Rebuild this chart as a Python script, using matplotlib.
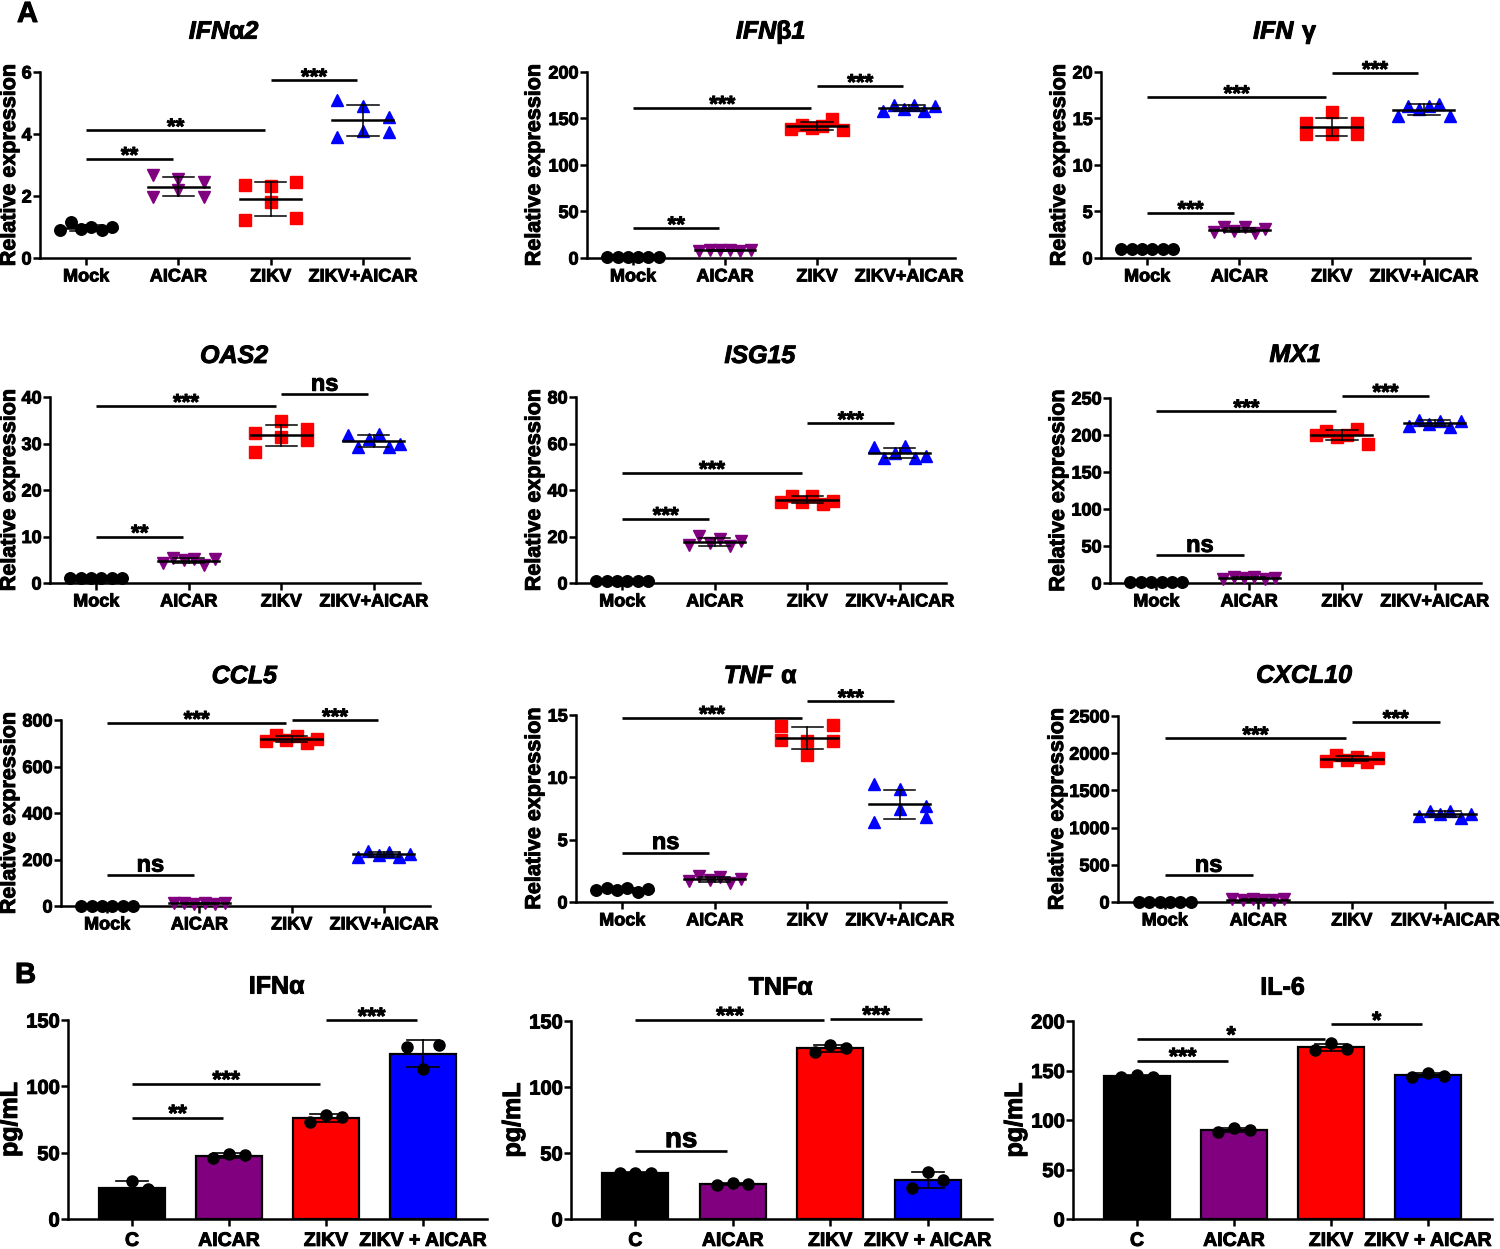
import numpy as np
import matplotlib
matplotlib.use("Agg")
import matplotlib.pyplot as plt
import matplotlib.patheffects as pe
from matplotlib.text import Text

plt.rcParams['font.family'] = ['Liberation Sans', 'DejaVu Sans']
plt.rcParams['font.weight'] = 'bold'
plt.rcParams['mathtext.fontset'] = 'custom'
plt.rcParams['mathtext.rm'] = 'Liberation Sans:italic:bold'
plt.rcParams['mathtext.sf'] = 'Liberation Sans'
plt.rcParams['mathtext.bf'] = 'Liberation Sans:bold'

# ---------------- data ----------------
groups = ["Mock", "AICAR", "ZIKV", "ZIKV+AICAR"]
bar_groups = ["C", "AICAR", "ZIKV", "ZIKV + AICAR"]

# panel A, relative expression, 6 replicates per group
ifna2 = [[0.91, 1.15, 0.93, 1.0, 0.89, 1.0],
         [2.68, 1.98, 2.54, 2.18, 2.46, 1.98],
         [2.36, 1.21, 2.31, 1.82, 2.45, 1.29],
         [5.1, 3.9, 4.9, 4.1, 4.54, 4.08]]
ifnb1 = [[1.0, 1.1, 0.9, 1.0, 1.1, 0.9],
         [8.0, 9.0, 8.5, 9.0, 7.5, 8.5],
         [139, 142.5, 140, 141.8, 149.7, 137.5],
         [158, 165, 160.5, 165, 158, 163]]
ifng = [[1.0, 1.0, 1.0, 1.0, 1.0, 1.0],
        [2.8, 3.3, 2.95, 3.3, 2.7, 3.1],
        [14.5, 13.3, 15.7, 13.3, 14.47, 13.35],
        [15.3, 16.3, 16.0, 16.3, 16.6, 15.3]]
oas2 = [[1.0, 1.0, 1.0, 1.0, 1.0, 1.0],
        [4.3, 5.36, 4.86, 5.2, 3.86, 5.14],
        [32.36, 28.2, 34.86, 31.4, 33.07, 30.7],
        [31.9, 29.3, 31.07, 32.1, 29.3, 30.0]]
isg15 = [[1.0, 1.0, 1.0, 1.0, 1.0, 1.0],
         [16.4, 20.4, 17.1, 19.0, 15.7, 18.1],
         [35.0, 37.6, 35.0, 37.6, 34.0, 35.4],
         [58.3, 53.6, 55.7, 58.9, 53.9, 54.6]]
mx1 = [[1.0, 1.0, 1.0, 1.0, 1.0, 1.0],
       [6.0, 8.0, 6.5, 7.5, 5.5, 7.0],
       [199.7, 205, 197.5, 199.7, 207.8, 188.5],
       [211.9, 220.8, 215.4, 219, 211, 219]]
ccl5 = [[1.0, 1.0, 1.0, 1.0, 1.0, 1.0],
        [11, 13, 10, 12, 9, 11],
        [709.7, 735.5, 714, 731, 699.7, 718.3],
        [212, 238, 219, 231, 212, 222]]
tnfa = [[0.94, 1.13, 0.99, 1.13, 0.8, 1.02],
        [1.69, 2.07, 1.8, 2.0, 1.53, 1.88],
        [14.14, 13.0, 12.93, 11.8, 14.2, 12.93],
        [9.44, 6.44, 7.49, 9.04, 7.73, 6.79]]
cxcl10 = [[1.0, 1.0, 1.0, 1.0, 1.0, 1.0],
          [35, 30, 40, 32, 28, 34],
          [1898, 1975, 1907, 1952, 1885, 1930],
          [1158, 1225, 1180, 1221, 1131, 1189]]

# significance bars: (from group, to group, height, label)
ifna2_sig = [(0, 1, 3.2, "**"), (0, 2, 4.12, "**"), (2, 3, 5.73, "***")]
ifnb1_sig = [(0, 1, 32, "**"), (0, 2, 161.6, "***"), (2, 3, 185, "***")]
ifng_sig = [(0, 1, 4.85, "***"), (0, 2, 17.3, "***"), (2, 3, 19.9, "***")]
oas2_sig = [(0, 1, 10.0, "**"), (0, 2, 38.1, "***"), (2, 3, 40.6, "ns")]
isg15_sig = [(0, 1, 27.6, "***"), (0, 2, 47.4, "***"), (2, 3, 68.7, "***")]
mx1_sig = [(0, 1, 37.3, "ns"), (0, 2, 232, "***"), (2, 3, 253, "***")]
ccl5_sig = [(0, 1, 133, "ns"), (0, 2, 788, "***"), (2, 3, 798.6, "***")]
tnfa_sig = [(0, 1, 3.97, "ns"), (0, 2, 14.78, "***"), (2, 3, 16.1, "***")]
cxcl10_sig = [(0, 1, 359, "ns"), (0, 2, 2199, "***"), (2, 3, 2419, "***")]

# panel B, pg/mL, 3 replicates per group
bar_ifna = [[17.9, 28.8, 22.6], [45.9, 49.2, 48.4], [73.0, 78.5, 77.0], [129.4, 112.9, 131.2]]
bar_tnfa = [[34.6, 35.2, 35.0], [25.7, 27.2, 26.7], [126.4, 131.9, 129.6], [23.2, 35.7, 29.2]]
bar_il6 = [[143.0, 145.5, 143.5], [87.4, 91.8, 90.1], [170.8, 177.5, 171.4], [143.9, 147.9, 144.9]]

bar_ifna_sig = [(0, 1, 76.5, "**"), (0, 2, 102, "***"), (2, 3, 149.7, "***")]
bar_tnfa_sig = [(0, 1, 51.8, "ns"), (0, 2, 151, "***"), (2, 3, 151.5, "***")]
bar_il6_sig = [(0, 1, 160, "***"), (0, 2, 181.8, "*"), (2, 3, 196.6, "*")]

# ---------------- styling ----------------
colors = ['black', '#800080', '#ff0000', '#0000ff']
markers = ['o', 'v', 's', '^']
W, H = 1500, 1249
fig = plt.figure(figsize=(W / 100, H / 100), dpi=100)


def make_axes(left, right, top, bottom):
    return fig.add_axes([left / W, 1 - bottom / H, (right - left) / W, (bottom - top) / H])


def style_axis(ax, ymax, ystep, xlim, labels, xsize, ysize, xpad):
    for s in ['top', 'right']:
        ax.spines[s].set_visible(False)
    for s in ['left', 'bottom']:
        ax.spines[s].set_linewidth(1.8)
    ax.set_xlim(*xlim)
    ax.set_ylim(0, ymax)
    ax.set_yticks(np.arange(0, ymax + ystep / 2, ystep))
    ax.set_xticks(range(4))
    ax.set_xticklabels(labels, fontsize=xsize, fontweight='bold')
    ax.tick_params(axis='both', width=1.8, length=5)
    ax.tick_params(axis='y', labelsize=ysize, pad=1)
    ax.tick_params(axis='x', pad=xpad)


def draw_sig(ax, sig, star_size, ns_size):
    for i, j, y, lab in sig:
        x2 = j - 0.06
        ax.plot([i, x2], [y, y], color='black', lw=1.9, clip_on=False, solid_capstyle='butt')
        if lab == 'ns':
            ax.annotate(lab, xy=((i + x2) / 2, y), xytext=(0, 2.5), textcoords='offset points',
                        ha='center', va='baseline', fontsize=ns_size, fontweight='bold',
                        annotation_clip=False)
        else:
            ax.annotate(lab, xy=((i + x2) / 2, y), xytext=(0, -2.5), textcoords='offset points',
                        ha='center', va='baseline', fontsize=star_size, fontweight='bold',
                        annotation_clip=False)


def scatter_panel(rect, title, values, sig, ymax, ystep, title_pad, label_off):
    ax = make_axes(*rect)
    style_axis(ax, ymax, ystep, (-0.5, 3.5), groups, 13, 13, 2.5)
    for k, vals in enumerate(values):
        vals = np.array(vals, dtype=float)
        # spread points GraphPad-like: tight groups in 6 columns, wide groups in 3
        if (vals.max() - vals.min()) / ymax < 0.08:
            offs = np.linspace(-0.28, 0.28, 6)
        else:
            offs = np.linspace(-0.28, 0.28, 3)[np.arange(len(vals)) // 2]
        ax.plot(k + offs, vals, linestyle='none', marker=markers[k], markersize=8.3,
                color=colors[k], clip_on=False, zorder=3)
        m = vals.mean()
        sd = vals.std(ddof=1)
        ax.plot([k - 0.33, k + 0.33], [m, m], color='black', lw=1.8, zorder=4, clip_on=False)
        ax.plot([k, k], [m - sd, m + sd], color='black', lw=1.1, zorder=4, clip_on=False)
        for yy in (m - sd, m + sd):
            ax.plot([k - 0.17, k + 0.17], [yy, yy], color='black', lw=1.1, zorder=4, clip_on=False)
    draw_sig(ax, sig, 16, 17)
    ax.set_ylabel("Relative expression", fontsize=15.5, fontweight='bold')
    ax.yaxis.set_label_coords(-label_off / (rect[1] - rect[0]), 0.5)
    ax.annotate(title, xy=(0.5, 1), xycoords='axes fraction', xytext=(0, title_pad),
                textcoords='offset points', ha='center', va='baseline', fontsize=18)
    return ax


def bar_panel(rect, title, values, sig, ymax, ystep):
    ax = make_axes(*rect)
    style_axis(ax, ymax, ystep, (-0.66, 3.66), bar_groups, 14, 14.5, 5)
    x = np.arange(4)
    means = [np.mean(v) for v in values]
    sds = [np.std(v, ddof=1) for v in values]
    ax.bar(x, means, width=0.68, color=colors, edgecolor='black', linewidth=1.6, zorder=2)
    for k, vals in enumerate(values):
        ax.plot([k, k], [means[k] - sds[k], means[k] + sds[k]], color='black', lw=1.2, zorder=3)
        for yy in (means[k] - sds[k], means[k] + sds[k]):
            ax.plot([k - 0.165, k + 0.165], [yy, yy], color='black', lw=1.2, zorder=3)
        ax.plot(k + np.array([-0.16, 0.0, 0.16]), vals, linestyle='none', marker='o',
                markersize=8, color='black', zorder=4, clip_on=False)
    draw_sig(ax, sig, 17, 20)
    ax.set_ylabel("pg/mL", fontsize=18, fontweight='bold')
    ax.yaxis.set_label_coords(-46 / (rect[1] - rect[0]), 0.5)
    ax.annotate(title, xy=(0.5, 1), xycoords='axes fraction', xytext=(0, 19),
                textcoords='offset points', ha='center', va='baseline', fontsize=18)
    return ax


# ---------------- layout (pixel boxes: left, right, top, bottom) ----------------
scatter_panel((40, 409, 72, 258), r"$\mathrm{IFN}\mathsf{α}\mathrm{2}$", ifna2, ifna2_sig, 6, 2, 24, 20)
scatter_panel((587, 955, 72, 258), r"$\mathrm{IFN}\mathsf{β}\mathrm{1}$", ifnb1, ifnb1_sig, 200, 50, 24, 42)
scatter_panel((1101, 1470, 72, 258), r"$\mathrm{IFN}\ \mathsf{γ}$", ifng, ifng_sig, 20, 5, 24, 31)

scatter_panel((50, 420, 397, 583), r"$\mathrm{OAS2}$", oas2, oas2_sig, 40, 10, 24.5, 30)
scatter_panel((576, 946, 397, 583), r"$\mathrm{ISG15}$", isg15, isg15_sig, 80, 20, 24.5, 31)
scatter_panel((1110, 1481, 398, 583), r"$\mathrm{MX1}$", mx1, mx1_sig, 250, 50, 26, 41)

scatter_panel((61, 430, 720, 906), r"$\mathrm{CCL5}$", ccl5, ccl5_sig, 800, 200, 26.5, 41)
scatter_panel((576, 946, 715, 902), r"$\mathrm{TNF}\ \mathsf{α}$", tnfa, tnfa_sig, 15, 5, 23, 31)
scatter_panel((1118, 1492, 716, 902), r"$\mathrm{CXCL10}$", cxcl10, cxcl10_sig, 2500, 500, 24, 50)

bar_panel((68, 487, 1020, 1219), r"$\mathbf{IFN}\mathsf{α}$", bar_ifna, bar_ifna_sig, 150, 50)
bar_panel((571, 992, 1021, 1219), r"$\mathbf{TNF}\mathsf{α}$", bar_tnfa, bar_tnfa_sig, 150, 50)
bar_panel((1073, 1492, 1021, 1219), "IL-6", bar_il6, bar_il6_sig, 200, 50)

fig.text(17 / W, 1 - 22 / H, "A", fontsize=21, fontweight='bold', ha='left', va='baseline')
fig.text(15 / W, 1 - 983 / H, "B", fontsize=21, fontweight='bold', ha='left', va='baseline')

# the original artwork has heavier lettering; thicken all text slightly
for t in fig.findobj(Text):
    t.set_path_effects([pe.withStroke(linewidth=0.7, foreground='black')])

fig.savefig("out.png", dpi=100)
